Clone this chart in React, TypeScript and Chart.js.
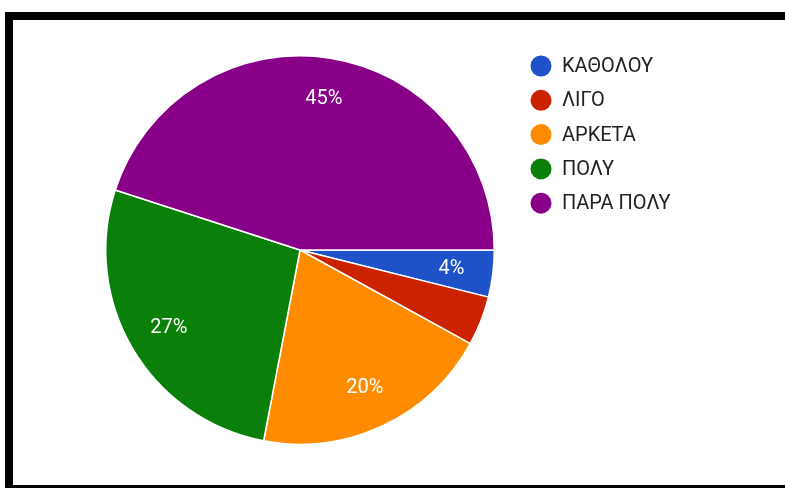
import React, { useEffect, useRef } from "react";
import { Chart, registerables } from "chart.js";

Chart.register(...registerables);

const categories = ["ΚΑΘΟΛΟΥ", "ΛΙΓΟ", "ΑΡΚΕΤΑ", "ΠΟΛΥ", "ΠΑΡΑ ΠΟΛΥ"];
const values = [3.9, 4.1, 20, 27, 45];
const sliceColors = ["#1f52c9", "#cb2200", "#ff8c00", "#0a800a", "#880088"];
const showPercent = [true, false, true, true, true];

const percentLabelsPlugin = {
  id: "percentLabels",
  afterDatasetsDraw(chart: any) {
    const ctx = chart.ctx;
    const meta = chart.getDatasetMeta(0);
    const data = chart.data.datasets[0].data as number[];
    const total = data.reduce((a, b) => a + b, 0);
    ctx.save();
    ctx.font = "20px Roboto";
    ctx.fillStyle = "#ffffff";
    ctx.textAlign = "center";
    ctx.textBaseline = "middle";
    meta.data.forEach((arc: any, i: number) => {
      if (!showPercent[i]) return;
      const p = arc.getProps(["x", "y", "startAngle", "endAngle", "outerRadius"], true);
      const mid = (p.startAngle + p.endAngle) / 2;
      const r = p.outerRadius * 0.785;
      const txt = Math.round((data[i] / total) * 100) + "%";
      ctx.fillText(txt, p.x + Math.cos(mid) * r, p.y + Math.sin(mid) * r);
    });
    ctx.restore();
  },
};

const sideLegendPlugin = {
  id: "sideLegend",
  afterDraw(chart: any) {
    const ctx = chart.ctx;
    const labels = chart.data.labels as string[];
    const bg = chart.data.datasets[0].backgroundColor as string[];
    const x0 = 541;
    const y0 = 66;
    const step = 34.3;
    ctx.save();
    ctx.font = "20px Roboto";
    ctx.textBaseline = "middle";
    ctx.textAlign = "left";
    labels.forEach((lab, i) => {
      const y = y0 + i * step;
      ctx.beginPath();
      ctx.arc(x0, y, 10.5, 0, Math.PI * 2);
      ctx.fillStyle = bg[i];
      ctx.fill();
      ctx.fillStyle = "#222222";
      ctx.fillText(lab, 562, y + 1);
    });
    ctx.restore();
  },
};

export default function App() {
  const canvasRef = useRef<HTMLCanvasElement | null>(null);

  useEffect(() => {
    if (!canvasRef.current) return;
    const chart = new Chart(canvasRef.current, {
      type: "pie",
      data: {
        labels: categories,
        datasets: [
          {
            data: values,
            backgroundColor: sliceColors,
            borderColor: "#ffffff",
            borderWidth: 1.5,
          },
        ],
      },
      options: {
        animation: false,
        responsive: false,
        maintainAspectRatio: false,
        rotation: 90,
        layout: {
          padding: { left: 105, right: 290, top: 55, bottom: 43 },
        },
        plugins: {
          legend: { display: false },
          tooltip: { enabled: false },
        },
      },
      plugins: [percentLabelsPlugin, sideLegendPlugin],
    });
    return () => chart.destroy();
  }, []);

  return (
    <div
      style={{
        position: "fixed",
        left: 0,
        top: 0,
        width: 785,
        height: 488,
        background: "#ffffff",
        overflow: "hidden",
      }}
    >
      <div
        style={{
          position: "absolute",
          left: 5,
          top: 12,
          width: 790,
          height: 476,
          boxSizing: "border-box",
          borderTop: "8px solid #000",
          borderLeft: "8px solid #000",
          borderBottom: "3px solid #000",
        }}
      />
      <canvas
        ref={canvasRef}
        width={785}
        height={488}
        style={{ position: "absolute", left: 0, top: 0, width: 785, height: 488 }}
      />
    </div>
  );
}
